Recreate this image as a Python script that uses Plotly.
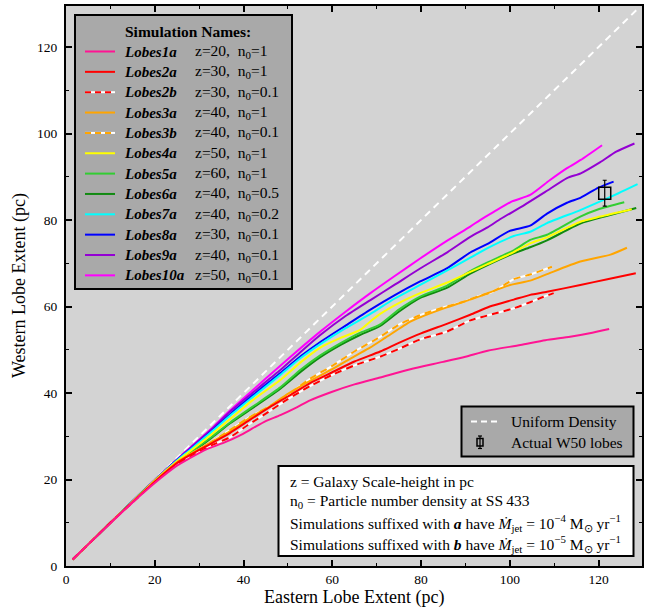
import plotly.graph_objects as go

# Eastern (x) vs western (y) lobe extent in pc for each simulation
lobes1a_x = [1.5, 5, 10, 15, 20, 25, 28, 31, 33.2, 36, 39, 42, 45, 48.3, 52, 55, 60, 65, 70.8, 77.6, 85, 90, 95, 102.4, 108, 113.6, 118, 122.4]
lobes1a_y = [1.5, 5, 9.9, 14.7, 19.2, 23.2, 25.0, 26.7, 27.6, 28.7, 30.1, 31.8, 33.5, 34.9, 36.7, 38.3, 40.3, 42.0, 43.6, 45.5, 47.2, 48.4, 49.8, 51.1, 52.2, 53.0, 53.8, 54.8]

lobes2a_x = [1.5, 5, 10, 15, 20, 25, 28, 33, 37, 41, 46, 50, 55, 60, 65, 70.8, 75, 80, 85.8, 91.1, 95.5, 100.9, 104.6, 108.4, 115.9, 122, 128.4]
lobes2a_y = [1.5, 5, 10, 14.8, 19.5, 23.8, 25.7, 28.5, 30.8, 33.5, 36.8, 39.2, 42.3, 44.8, 47.3, 49.6, 51.6, 53.8, 56.0, 58.1, 60.0, 61.6, 62.7, 63.4, 65.0, 66.3, 67.7]

lobes2b_x = [1.5, 5, 10, 15, 20, 25, 28, 33, 37, 41, 46, 50, 55, 60, 65, 70.8, 75, 79.8, 85.8, 91.1, 96, 100.9, 104.6, 107.5, 109.9]
lobes2b_y = [1.5, 5, 10, 14.7, 19.4, 23.5, 25.3, 28.0, 29.8, 32.6, 35.9, 38.6, 41.6, 44.2, 46.4, 48.4, 50.2, 52.4, 54.2, 56.8, 58.2, 59.6, 61.0, 62.2, 63.1]

lobes3a_x = [1.5, 5, 10, 15, 20, 25, 28, 33, 37, 41, 46, 50, 55, 60, 65, 68.5, 72, 77.6, 79.8, 85.8, 91.1, 93.3, 100.1, 104.6, 108.4, 115.9, 122.7, 126.4]
lobes3a_y = [1.5, 5, 10, 14.8, 19.6, 24.0, 25.9, 28.8, 31.2, 34.0, 37.0, 39.8, 42.8, 45.5, 48.5, 50.5, 52.8, 56.5, 57.5, 59.8, 61.6, 62.4, 65.0, 66.0, 67.5, 70.4, 72.0, 73.6]

lobes3b_x = [1.5, 5, 10, 15, 20, 25, 28, 33, 37, 41, 46, 50, 55, 60, 65, 70.8, 75, 79.8, 85, 89.6, 93, 95.6, 98.2, 100.8, 104.6, 109.5]
lobes3b_y = [1.5, 5, 10, 14.8, 19.5, 23.9, 25.8, 28.8, 31.5, 34.2, 37.0, 39.6, 43.3, 46.3, 49.6, 53.0, 55.8, 58.0, 59.8, 61.1, 62.4, 63.2, 64.6, 66.3, 67.4, 69.2]

lobes4a_x = [1.5, 5, 10, 15, 20, 25, 28, 33, 37, 42, 48.3, 53, 57.3, 62, 66.3, 68.5, 70.8, 75, 79.8, 85.8, 91.1, 95, 100.9, 104.6, 108.4, 115.9, 120.4, 127.5]
lobes4a_y = [1.5, 5, 10, 14.9, 19.8, 24.2, 26.6, 30.6, 34.0, 38.3, 43.0, 47.2, 50.5, 52.8, 54.6, 56.5, 58.3, 60.8, 63.1, 65.5, 68.0, 69.8, 72.6, 74.6, 76.0, 79.6, 80.8, 82.5]

lobes5a_x = [1.5, 5, 10, 15, 20, 25, 28, 33, 37, 42, 48.3, 53, 57.3, 62, 66, 70.8, 75, 79.8, 85.8, 91.1, 95, 100.9, 104.6, 108.4, 115.9, 120, 125.8]
lobes5a_y = [1.5, 5, 10, 14.9, 19.7, 24.0, 26.2, 30.0, 33.2, 36.8, 41.3, 45.5, 48.7, 51.6, 53.8, 55.9, 59.3, 62.3, 64.8, 68.2, 70.2, 73.0, 75.4, 76.6, 80.8, 82.5, 84.1]

lobes6a_x = [1.5, 5, 10, 15, 20, 25, 28, 33, 37, 42, 48.3, 53, 57.3, 62, 66, 70.8, 75, 79.8, 85.8, 91.1, 95, 100.9, 104.6, 108.4, 115.9, 122, 128.5]
lobes6a_y = [1.5, 5, 10, 14.9, 19.7, 23.9, 26.0, 29.8, 33.0, 36.5, 41.0, 45.0, 48.3, 51.2, 53.3, 55.5, 58.8, 62.0, 64.3, 67.6, 69.6, 72.3, 73.7, 75.3, 79.2, 81.0, 82.8]

lobes7a_x = [1.5, 5, 10, 15, 20, 25, 28, 33, 37, 42, 48.3, 53, 57.3, 63, 68.6, 74, 79.8, 85.8, 91.1, 95, 100.9, 104.6, 108.4, 115.9, 120.4, 124.5, 128.8]
lobes7a_y = [1.5, 5, 10, 15, 19.8, 24.4, 26.9, 31.2, 34.8, 39.0, 44.2, 48.2, 51.3, 55.0, 58.3, 61.8, 65.0, 68.3, 71.3, 73.5, 76.3, 77.3, 79.3, 82.3, 84.3, 86.2, 88.3]

lobes8a_x = [1.5, 5, 10, 15, 20, 25, 28, 33, 37, 42, 48.3, 53, 57.3, 63, 68.6, 74, 79.8, 85.8, 91.1, 95, 100, 104.6, 108.4, 112.9, 116, 120, 123.4]
lobes8a_y = [1.5, 5, 10, 15, 19.8, 24.5, 27.0, 31.4, 35.1, 39.4, 44.6, 48.6, 51.8, 55.6, 59.3, 62.6, 65.8, 68.8, 72.5, 74.5, 77.5, 78.7, 81.5, 84.0, 85.2, 87.5, 88.9]

lobes9a_x = [1.5, 5, 10, 15, 20, 25, 28, 33, 37, 42, 46, 48.3, 53, 57.3, 63, 68.6, 74, 79.8, 86, 91.1, 95, 98, 103, 108, 112.9, 116, 120.4, 124, 128.1]
lobes9a_y = [1.5, 5, 10, 15, 19.9, 24.6, 27.3, 31.8, 35.7, 40.0, 43.4, 45.3, 49.6, 53.4, 57.8, 61.5, 65.0, 68.8, 72.6, 76.1, 78.3, 80.3, 83.3, 86.5, 89.7, 90.8, 93.4, 95.8, 97.7]

lobes10a_x = [1.5, 5, 10, 15, 20, 25, 28, 33, 37, 42, 48.3, 53, 57.3, 63, 68.6, 74, 79.8, 86, 91.1, 93.3, 96.4, 100.5, 104.6, 109, 112.9, 116, 120.8]
lobes10a_y = [1.5, 5, 10, 15, 19.9, 24.6, 27.4, 32.0, 36.0, 40.6, 46.3, 50.5, 54.2, 58.8, 63.1, 67.0, 71.1, 75.3, 78.5, 80.0, 81.9, 84.3, 85.8, 89.2, 92.0, 93.9, 97.3]

# Uniform-density reference (west = east)
uniform_x = [1.5, 128.5]
uniform_y = [1.5, 128.5]

# Observed W50 lobes
w50_x = [121.4]
w50_y = [86.2]
w50_err = [3.0]

sim_names = ["Lobes1a", "Lobes2a", "Lobes2b", "Lobes3a", "Lobes3b", "Lobes4a",
             "Lobes5a", "Lobes6a", "Lobes7a", "Lobes8a", "Lobes9a", "Lobes10a"]
sim_z = [20, 30, 30, 40, 40, 50, 60, 40, 40, 30, 40, 50]
sim_n0 = ["1", "1", "0.1", "1", "0.1", "1", "1", "0.5", "0.2", "0.1", "0.1", "0.1"]
sim_colors = ["#FF1493", "#FF0000", "#FF0000", "#FFA500", "#FFA500", "#FFFF00",
              "#32CD32", "#108A10", "#00FFFF", "#0000FF", "#9400D3", "#FF00FF"]
sim_dashed = [False, False, True, False, True, False, False, False, False, False, False, False]
sim_x = [lobes1a_x, lobes2a_x, lobes2b_x, lobes3a_x, lobes3b_x, lobes4a_x,
         lobes5a_x, lobes6a_x, lobes7a_x, lobes8a_x, lobes9a_x, lobes10a_x]
sim_y = [lobes1a_y, lobes2a_y, lobes2b_y, lobes3a_y, lobes3b_y, lobes4a_y,
         lobes5a_y, lobes6a_y, lobes7a_y, lobes8a_y, lobes9a_y, lobes10a_y]

FONT = "Liberation Serif"
W, H = 645, 610
ML, MR, MT, MB = 66, 3, 6, 44
PW, PH = W - ML - MR, H - MT - MB
DASH = "7px,5px"


def fx(p):
    """pixel column -> paper x"""
    return (p - ML) / PW


def fy(p):
    """pixel row -> paper y"""
    return (H - MB - p) / PH


fig = go.Figure()

# uniform-density line sits underneath the simulation tracks
fig.add_trace(go.Scatter(x=uniform_x, y=uniform_y, mode="lines", name="Uniform Density",
                         line=dict(color="white", width=2, dash=DASH), showlegend=False))

# simulation tracks, highest-numbered first so the low-z runs lie on top
order = list(range(len(sim_names)))[::-1]
for i in order:
    name, xs, ys, col, dashed = sim_names[i], sim_x[i], sim_y[i], sim_colors[i], sim_dashed[i]
    if dashed:
        fig.add_trace(go.Scatter(x=xs, y=ys, mode="lines",
                                 line=dict(color="white", width=2, shape="spline", smoothing=0.6),
                                 hoverinfo="skip", showlegend=False))
        fig.add_trace(go.Scatter(x=xs, y=ys, mode="lines", name=name,
                                 line=dict(color=col, width=2, dash=DASH, shape="spline", smoothing=0.6),
                                 showlegend=False))
    else:
        fig.add_trace(go.Scatter(x=xs, y=ys, mode="lines", name=name,
                                 line=dict(color=col, width=2, shape="spline", smoothing=0.6),
                                 showlegend=False))

fig.add_trace(go.Scatter(x=w50_x, y=w50_y, mode="markers", name="Actual W50 lobes",
                         marker=dict(symbol="square-open", size=12, color="black",
                                     line=dict(width=1.5, color="black")),
                         error_y=dict(type="data", array=w50_err, visible=True,
                                      color="black", thickness=1.2, width=2),
                         showlegend=False))

shapes = []
annotations = []

# ---- simulation legend (top left) ----
shapes.append(dict(type="rect", xref="paper", yref="paper",
                   x0=fx(75), x1=fx(292), y0=fy(289), y1=fy(15),
                   fillcolor="#A9A9A9", line=dict(color="black", width=2), layer="above"))
annotations.append(dict(xref="paper", yref="paper", x=fx(187.5), y=fy(31.5),
                        text="<b>Simulation Names:</b>", showarrow=False,
                        xanchor="center", yanchor="middle",
                        font=dict(family=FONT, size=15.5, color="black")))
for i, (name, z, n0, col, dashed) in enumerate(zip(sim_names, sim_z, sim_n0, sim_colors, sim_dashed)):
    yy = 51.5 + 20.35 * i
    if dashed:
        shapes.append(dict(type="line", xref="paper", yref="paper",
                           x0=fx(85), x1=fx(115), y0=fy(yy), y1=fy(yy),
                           line=dict(color="white", width=2), layer="above"))
        shapes.append(dict(type="line", xref="paper", yref="paper",
                           x0=fx(85), x1=fx(115), y0=fy(yy), y1=fy(yy),
                           line=dict(color=col, width=2, dash="6px,4px"), layer="above"))
    else:
        shapes.append(dict(type="line", xref="paper", yref="paper",
                           x0=fx(85), x1=fx(115), y0=fy(yy), y1=fy(yy),
                           line=dict(color=col, width=2), layer="above"))
    annotations.append(dict(xref="paper", yref="paper", x=fx(122), y=fy(yy),
                            text=f"<b><i>{name}</i></b>", showarrow=False,
                            xanchor="left", yanchor="middle",
                            font=dict(family=FONT, size=15, color="black")))
    annotations.append(dict(xref="paper", yref="paper", x=fx(192.5), y=fy(yy),
                            text=f"z={z},  n<sub>0</sub>={n0}", showarrow=False,
                            xanchor="left", yanchor="middle",
                            font=dict(family=FONT, size=15.5, color="black")))

# ---- reference legend (bottom right) ----
shapes.append(dict(type="rect", xref="paper", yref="paper",
                   x0=fx(461.5), x1=fx(633.5), y0=fy(456.5), y1=fy(406.5),
                   fillcolor="#A9A9A9", line=dict(color="black", width=2), layer="above"))
shapes.append(dict(type="line", xref="paper", yref="paper",
                   x0=fx(471), x1=fx(500), y0=fy(421.5), y1=fy(421.5),
                   line=dict(color="white", width=2, dash="6px,4px"), layer="above"))
# error-bar glyph
shapes.append(dict(type="line", xref="paper", yref="paper",
                   x0=fx(480), x1=fx(480), y0=fy(448.5), y1=fy(436),
                   line=dict(color="black", width=1.2), layer="above"))
for cap in (436, 448.5):
    shapes.append(dict(type="line", xref="paper", yref="paper",
                       x0=fx(478), x1=fx(482), y0=fy(cap), y1=fy(cap),
                       line=dict(color="black", width=1.2), layer="above"))
shapes.append(dict(type="rect", xref="paper", yref="paper",
                   x0=fx(477), x1=fx(483), y0=fy(446), y1=fy(438.5),
                   line=dict(color="black", width=1.5), layer="above"))
annotations.append(dict(xref="paper", yref="paper", x=fx(509), y=fy(421.5),
                        text="Uniform Density", showarrow=False, xanchor="left", yanchor="middle",
                        font=dict(family=FONT, size=15.5, color="black")))
annotations.append(dict(xref="paper", yref="paper", x=fx(509), y=fy(442.3),
                        text="Actual W50 lobes", showarrow=False, xanchor="left", yanchor="middle",
                        font=dict(family=FONT, size=15.5, color="black")))

# ---- notes box ----
shapes.append(dict(type="rect", xref="paper", yref="paper",
                   x0=fx(278.5), x1=fx(633.5), y0=fy(556), y1=fy(466),
                   fillcolor="white", line=dict(color="black", width=2), layer="above"))
notes = [
    "z = Galaxy Scale-height in pc",
    "n<sub>0</sub> = Particle number density at SS\u2009433",
    "Simulations suffixed with <b><i>a</i></b> have <i>\u1E40</i><sub>jet</sub> = 10<sup>\u22124</sup> M<sub>\u2299</sub> yr<sup>\u22121</sup>",
    "Simulations suffixed with <b><i>b</i></b> have <i>\u1E40</i><sub>jet</sub> = 10<sup>\u22125</sup> M<sub>\u2299</sub> yr<sup>\u22121</sup>",
]
for line_text, yy in zip(notes, [481.5, 501.5, 522.5, 543.5]):
    annotations.append(dict(xref="paper", yref="paper", x=fx(288), y=fy(yy),
                            text=line_text, showarrow=False, xanchor="left", yanchor="middle",
                            font=dict(family=FONT, size=15.5, color="black")))

# ---- axis titles ----
annotations.append(dict(xref="paper", yref="paper", x=0.5, y=fy(597),
                        text="Eastern Lobe Extent (pc)", showarrow=False,
                        xanchor="center", yanchor="middle",
                        font=dict(family=FONT, size=18, color="black")))
annotations.append(dict(xref="paper", yref="paper", x=fx(19), y=0.5,
                        text="Western Lobe Extent (pc)", showarrow=False, textangle=-90,
                        xanchor="center", yanchor="middle",
                        font=dict(family=FONT, size=18, color="black")))

axis_common = dict(
    showgrid=False, zeroline=False, showline=True, linecolor="black", linewidth=2,
    mirror="allticks", ticks="inside", ticklen=6, tickwidth=1.5, tickcolor="black",
    tick0=0, dtick=20,
    minor=dict(dtick=10, ticks="inside", ticklen=3, tickwidth=1.2, tickcolor="black"),
    tickfont=dict(family=FONT, size=13.5, color="black"),
)

fig.update_layout(
    width=W, height=H,
    margin=dict(l=ML, r=MR, t=MT, b=MB, autoexpand=False),
    paper_bgcolor="white", plot_bgcolor="#D3D3D3",
    xaxis=dict(range=[0, 129.8], **axis_common),
    yaxis=dict(range=[0, 129.5], ticklabelstandoff=4, **axis_common),
    shapes=shapes, annotations=annotations,
    showlegend=False,
)

fig.write_html("out.html")
